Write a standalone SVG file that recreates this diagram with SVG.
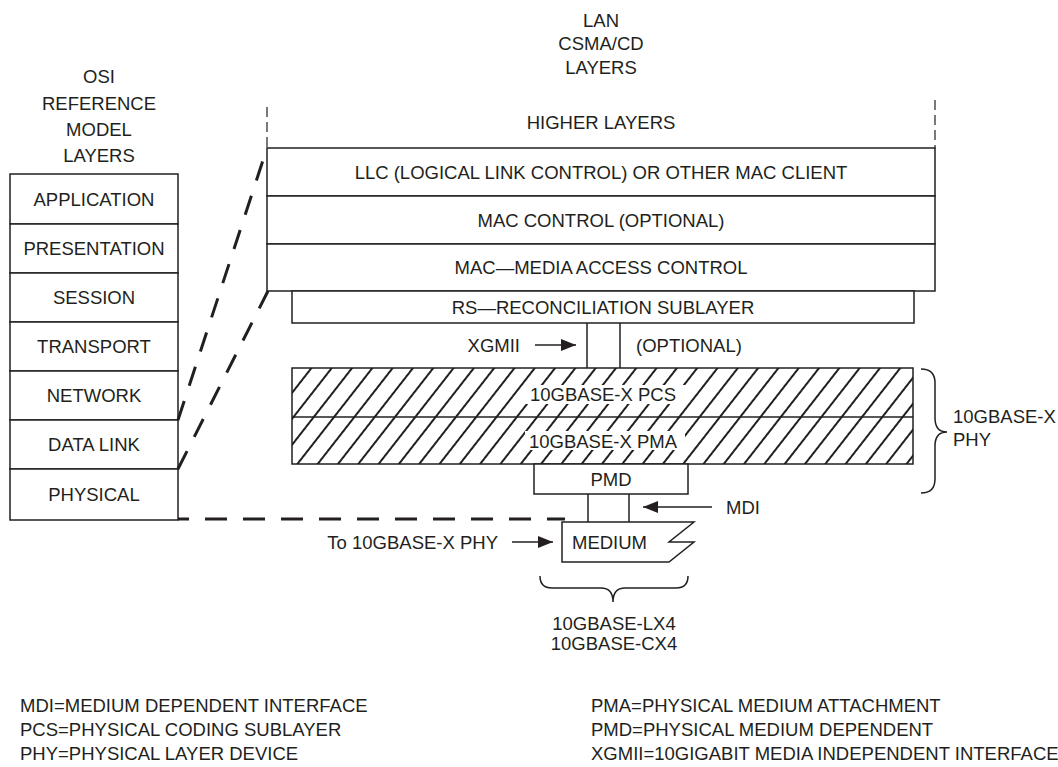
<svg xmlns="http://www.w3.org/2000/svg" width="1058" height="767" viewBox="0 0 1058 767">
<style>
.t{font-family:"Liberation Sans",Arial,sans-serif;font-size:18.5px;fill:#231f20}
.m{text-anchor:middle}
.box{fill:#fff;stroke:#231f20;stroke-width:1.5}
.ln{fill:none;stroke:#231f20;stroke-width:1.5}
.dl{fill:none;stroke:#231f20;stroke-width:3;stroke-dasharray:20 16}
.dv{fill:none;stroke:#231f20;stroke-width:1.2;stroke-dasharray:10 5}
.ar{fill:none;stroke:#231f20;stroke-width:1.5;marker-end:url(#ah)}
</style>
<defs>
<marker id="ah" markerWidth="16" markerHeight="12" refX="15" refY="6" orient="auto" markerUnits="userSpaceOnUse"><path d="M0,0 L15,6 L0,12 Z" fill="#231f20"/></marker>
<pattern id="hatch" patternUnits="userSpaceOnUse" width="16" height="20" patternTransform="rotate(38)"><line x1="8" y1="-2" x2="8" y2="22" stroke="#231f20" stroke-width="2"/></pattern>
</defs>
<rect width="1058" height="767" fill="#fff"/>

<g id="osi-title">
<text class="t m" x="99" y="82.6">OSI</text>
<text class="t m" x="99" y="109.6">REFERENCE</text>
<text class="t m" x="99" y="135.6">MODEL</text>
<text class="t m" x="99" y="161.6">LAYERS</text>
</g>
<g id="osi-application"><rect class="box" x="10" y="174" width="168" height="50"/><text class="t m" x="94" y="205.6">APPLICATION</text></g>
<g id="osi-presentation"><rect class="box" x="10" y="224" width="168" height="49"/><text class="t m" x="94" y="255">PRESENTATION</text></g>
<g id="osi-session"><rect class="box" x="10" y="273" width="168" height="49"/><text class="t m" x="94" y="304">SESSION</text></g>
<g id="osi-transport"><rect class="box" x="10" y="322" width="168" height="49"/><text class="t m" x="94" y="353">TRANSPORT</text></g>
<g id="osi-network"><rect class="box" x="10" y="371" width="168" height="49"/><text class="t m" x="94" y="402">NETWORK</text></g>
<g id="osi-datalink"><rect class="box" x="10" y="420" width="168" height="49"/><text class="t m" x="94" y="451">DATA LINK</text></g>
<g id="osi-physical"><rect class="box" x="10" y="469" width="168" height="51"/><text class="t m" x="94" y="501">PHYSICAL</text></g>

<g id="lan-title">
<text class="t m" x="601" y="26.6">LAN</text>
<text class="t m" x="601" y="50">CSMA/CD</text>
<text class="t m" x="601" y="73.6">LAYERS</text>
</g>
<g id="higher"><text class="t m" x="601" y="128.6">HIGHER LAYERS</text></g>
<g id="llc"><rect class="box" x="267" y="148" width="668" height="48"/><text class="t m" x="601" y="178.6">LLC (LOGICAL LINK CONTROL) OR OTHER MAC CLIENT</text></g>
<g id="macctl"><rect class="box" x="267" y="196" width="668" height="48"/><text class="t m" x="601" y="226.6">MAC CONTROL (OPTIONAL)</text></g>
<g id="mac"><rect class="box" x="267" y="244" width="668" height="47"/><text class="t m" x="601" y="274">MAC—MEDIA ACCESS CONTROL</text></g>
<g id="rs"><rect class="box" x="292" y="291" width="622" height="32"/><text class="t m" x="603" y="313.6">RS—RECONCILIATION SUBLAYER</text></g>

<g id="phy-block">
<rect x="292" y="368" width="621" height="96" fill="url(#hatch)"/>
<rect x="525" y="385" width="160" height="19" fill="#fff"/>
<rect x="525" y="431" width="160" height="19" fill="#fff"/>
<rect class="ln" x="292" y="368" width="621" height="96"/>
<line class="ln" x1="292" y1="417" x2="913" y2="417"/>
</g>
<g id="pcs"><text class="t m" x="603" y="401">10GBASE-X PCS</text></g>
<g id="pma"><text class="t m" x="603" y="447.5">10GBASE-X PMA</text></g>
<g id="pmd"><rect class="box" x="534" y="464" width="154" height="30"/><text class="t m" x="611" y="485.6">PMD</text></g>
<g id="medium"><path class="box" d="M562,522 L694,522 L669,542 L694,542 L669,562 L562,562 Z"/><text class="t" x="572" y="548.6">MEDIUM</text></g>

<g id="connectors">
<line class="ln" x1="587" y1="323" x2="587" y2="368"/>
<line class="ln" x1="620" y1="323" x2="620" y2="368"/>
<line class="ln" x1="588" y1="494" x2="588" y2="522"/>
<line class="ln" x1="629" y1="494" x2="629" y2="522"/>
<line class="dv" x1="267" y1="107" x2="267" y2="148"/>
<line class="dv" x1="935" y1="100" x2="935" y2="148"/>
<line class="dl" x1="178" y1="420" x2="267" y2="148"/>
<line class="dl" x1="178" y1="469" x2="268" y2="291"/>
<line class="dl" x1="178" y1="519" x2="565" y2="519" style="stroke-dasharray:22 16;stroke-dashoffset:11"/>
<line class="ar" x1="535" y1="345" x2="576" y2="345"/>
<line class="ar" x1="512" y1="542" x2="553" y2="542"/>
<line class="ar" x1="712" y1="507" x2="643" y2="507"/>
<path class="ln" d="M921,369 Q935,369 935,383 L935,418 Q935,432 947,432 Q935,432 935,446 L935,479 Q935,493 921,493"/>
<path class="ln" d="M540,576 Q540,588 552,588 L601,588 Q613,588 613,602 Q613,588 625,588 L676,588 Q688,588 688,576"/>
</g>

<g id="labels">
<text class="t" x="520" y="351.6" text-anchor="end">XGMII</text>
<text class="t" x="636" y="351.6">(OPTIONAL)</text>
<text class="t" x="726" y="513.6">MDI</text>
<text class="t" x="498" y="548.6" text-anchor="end">To 10GBASE-X PHY</text>
<text class="t" x="953" y="422.6">10GBASE-X</text>
<text class="t" x="953" y="445.6">PHY</text>
<text class="t m" x="614" y="629.6">10GBASE-LX4</text>
<text class="t m" x="614" y="649.6">10GBASE-CX4</text>
</g>

<g id="legend">
<text class="t" x="20" y="711.6">MDI=MEDIUM DEPENDENT INTERFACE</text>
<text class="t" x="20" y="735.6">PCS=PHYSICAL CODING SUBLAYER</text>
<text class="t" x="20" y="759.6">PHY=PHYSICAL LAYER DEVICE</text>
<text class="t" x="591" y="711.6">PMA=PHYSICAL MEDIUM ATTACHMENT</text>
<text class="t" x="591" y="735.6">PMD=PHYSICAL MEDIUM DEPENDENT</text>
<text class="t" x="591" y="759.6">XGMII=10GIGABIT MEDIA INDEPENDENT INTERFACE</text>
</g>
</svg>
